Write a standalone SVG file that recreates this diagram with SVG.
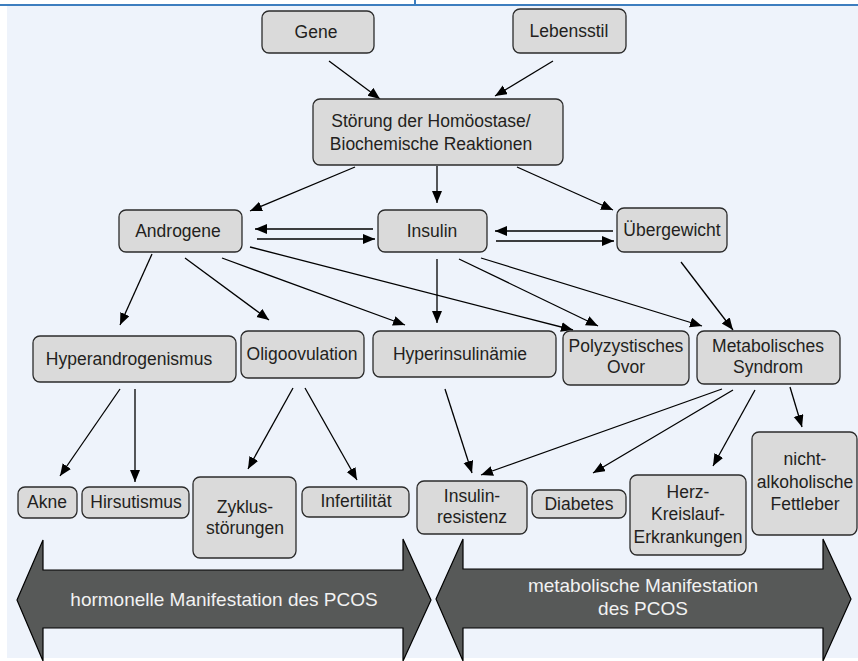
<svg xmlns="http://www.w3.org/2000/svg" width="858" height="661" viewBox="0 0 858 661">
<style>
.n rect{fill:#dadada;stroke:#2b2b2b;stroke-width:1.3}
.n text{font-family:"Liberation Sans",Arial,sans-serif;font-size:17.5px;fill:#231f20;text-anchor:middle}
.c line{stroke:#000;stroke-width:1.3;marker-end:url(#ah)}
.big{fill:#575958;stroke:#000;stroke-width:1.2}
.bt{font-family:"Liberation Sans",Arial,sans-serif;font-size:19px;fill:#f2f2f2;text-anchor:middle}
</style>
<defs>
<marker id="ah" markerUnits="userSpaceOnUse" markerWidth="13" markerHeight="11" refX="12" refY="5" orient="auto">
<path d="M0,0 L12,5 L0,10 z" fill="#000"/>
</marker>
</defs>
<rect x="0" y="0" width="858" height="661" fill="#ffffff"/>
<rect x="7" y="6" width="851" height="652" fill="#eef3fb"/>
<rect x="0" y="4" width="858" height="2" fill="#3d7ebf"/>
<rect x="414" y="0" width="2" height="6" fill="#3d7ebf"/>

<g id="arrow-hormonal">
<polygon class="big" points="17,600 43,540 43,570 403,570 403,539 431,600 403,661 403,628 43,628 43,661"/>
<text class="bt" x="224" y="606">hormonelle Manifestation des PCOS</text>
</g>
<g id="arrow-metabolic">
<polygon class="big" points="436,599 463,539 463,569 823,569 823,539 851,599 823,661 823,628 463,628 463,661"/>
<text class="bt" x="643" y="592">metabolische Manifestation</text>
<text class="bt" x="643" y="615">des PCOS</text>
</g>

<g class="c" id="connectors">
<line x1="329" y1="61" x2="380" y2="99"/>
<line x1="553" y1="61" x2="495" y2="96"/>
<line x1="355" y1="167" x2="250" y2="211"/>
<line x1="437" y1="166" x2="437" y2="203"/>
<line x1="517" y1="167" x2="613" y2="210"/>
<line x1="373" y1="229" x2="255" y2="229"/>
<line x1="257" y1="239" x2="375" y2="239"/>
<line x1="613" y1="231" x2="495" y2="231"/>
<line x1="496" y1="241" x2="614" y2="241"/>
<line x1="152" y1="254" x2="120" y2="325"/>
<line x1="185" y1="258" x2="269" y2="320"/>
<line x1="222" y1="258" x2="405" y2="325"/>
<line x1="250" y1="247" x2="573" y2="330"/>
<line x1="437" y1="259" x2="437" y2="323"/>
<line x1="459" y1="259" x2="598" y2="326"/>
<line x1="481" y1="258" x2="702" y2="326"/>
<line x1="681" y1="262" x2="733" y2="330"/>
<line x1="120" y1="389" x2="60" y2="476"/>
<line x1="135" y1="389" x2="135" y2="482"/>
<line x1="293" y1="388" x2="248" y2="469"/>
<line x1="305" y1="388" x2="357" y2="480"/>
<line x1="445" y1="389" x2="472" y2="473"/>
<line x1="722" y1="389" x2="481" y2="475"/>
<line x1="733" y1="390" x2="593" y2="473"/>
<line x1="755" y1="390" x2="713" y2="466"/>
<line x1="790" y1="387" x2="802" y2="427"/>
</g>

<g class="n" id="gene"><rect x="262" y="11" width="112" height="42" rx="7"/><text x="316" y="38">Gene</text></g>
<g class="n" id="lebensstil"><rect x="513" y="9" width="113" height="44" rx="7"/><text x="569" y="37">Lebensstil</text></g>
<g class="n" id="stoerung"><rect x="313" y="99" width="250" height="66" rx="7"/><text x="431" y="127">Störung der Homöostase/</text><text x="431" y="150">Biochemische Reaktionen</text></g>
<g class="n" id="androgene"><rect x="119" y="210" width="123" height="42" rx="7"/><text x="178" y="237">Androgene</text></g>
<g class="n" id="insulin"><rect x="378" y="210" width="109" height="42" rx="7"/><text x="432" y="237">Insulin</text></g>
<g class="n" id="uebergewicht"><rect x="617" y="208" width="110" height="44" rx="7"/><text x="672" y="236">Übergewicht</text></g>
<g class="n" id="hyperandrogenismus"><rect x="33" y="336" width="203" height="46" rx="7"/><text x="129" y="365">Hyperandrogenismus</text></g>
<g class="n" id="oligoovulation"><rect x="241" y="331" width="123" height="47" rx="7"/><text x="302" y="360">Oligoovulation</text></g>
<g class="n" id="hyperinsulinaemie"><rect x="373" y="331" width="183" height="46" rx="7"/><text x="460" y="360">Hyperinsulinämie</text></g>
<g class="n" id="pco"><rect x="563" y="331" width="126" height="54" rx="7"/><text x="626" y="352">Polyzystisches</text><text x="626" y="373">Ovor</text></g>
<g class="n" id="metabolisch"><rect x="697" y="331" width="143" height="53" rx="7"/><text x="768" y="352">Metabolisches</text><text x="768" y="373">Syndrom</text></g>
<g class="n" id="akne"><rect x="18" y="487" width="59" height="31" rx="7"/><text x="47" y="508">Akne</text></g>
<g class="n" id="hirsutismus"><rect x="82" y="487" width="107" height="31" rx="7"/><text x="136" y="508">Hirsutismus</text></g>
<g class="n" id="zyklus"><rect x="193" y="477" width="103" height="81" rx="7"/><text x="245" y="513">Zyklus-</text><text x="245" y="534">störungen</text></g>
<g class="n" id="infertilitaet"><rect x="302" y="487" width="107" height="30" rx="7"/><text x="356" y="507">Infertilität</text></g>
<g class="n" id="insulinresistenz"><rect x="417" y="481" width="110" height="53" rx="7"/><text x="472" y="502">Insulin-</text><text x="472" y="523">resistenz</text></g>
<g class="n" id="diabetes"><rect x="532" y="490" width="94" height="28" rx="7"/><text x="579" y="510">Diabetes</text></g>
<g class="n" id="herz"><rect x="630" y="475" width="116" height="80" rx="7"/><text x="688" y="498">Herz-</text><text x="688" y="520">Kreislauf-</text><text x="688" y="543">Erkrankungen</text></g>
<g class="n" id="fettleber"><rect x="752" y="432" width="105" height="103" rx="7"/><text x="805" y="465">nicht-</text><text x="805" y="488">alkoholische</text><text x="805" y="510">Fettleber</text></g>
</svg>
